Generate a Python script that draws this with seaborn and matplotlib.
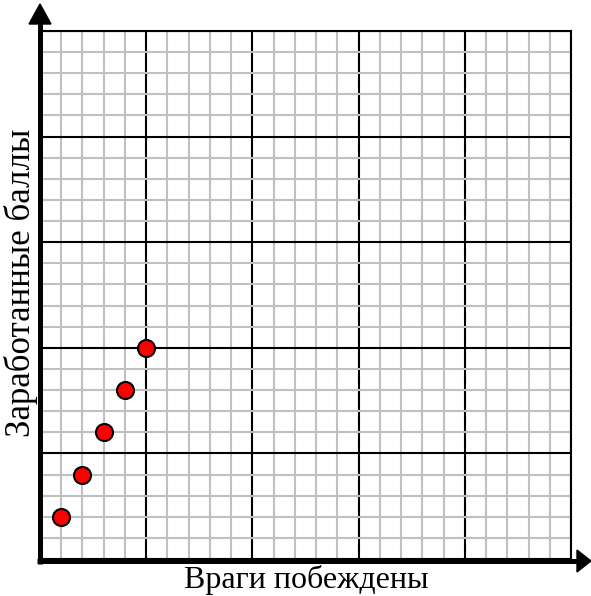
import matplotlib
matplotlib.use("Agg")
import matplotlib.pyplot as plt
import seaborn as sns
import numpy as np
import pandas as pd
from matplotlib.patches import Polygon
from matplotlib.lines import Line2D
from matplotlib.ticker import MultipleLocator

enemies = [1, 2, 3, 4, 5]
points = [2, 4, 6, 8, 10]
x_label = "Враги побеждены"
y_label = "Заработанные баллы"

df = pd.DataFrame({"x": enemies, "y": points})

sns.set_style("white")
plt.rcParams["font.family"] = ["Liberation Serif", "DejaVu Serif"]

W, H = 591, 596
fig = plt.figure(figsize=(W / 100, H / 100), dpi=100)
ax = fig.add_axes([40 / W, 1 - 559 / H, 531 / W, 528 / H])

ax.set_xlim(0, 25)
ax.set_ylim(0, 25)
ax.xaxis.set_major_locator(MultipleLocator(5))
ax.yaxis.set_major_locator(MultipleLocator(5))
ax.xaxis.set_minor_locator(MultipleLocator(1))
ax.yaxis.set_minor_locator(MultipleLocator(1))
ax.grid(which="minor", color="#c0c0c0", linewidth=1.5, zorder=0)
ax.grid(which="major", color="black", linewidth=1.5, zorder=1)
ax.set_axisbelow(True)
ax.tick_params(which="both", length=0, labelbottom=False, labelleft=False)
for s in ["top", "right"]:
    ax.spines[s].set_color("black")
    ax.spines[s].set_linewidth(1.5)
for s in ["left", "bottom"]:
    ax.spines[s].set_visible(False)

sns.scatterplot(data=df, x="x", y="y", ax=ax, color="#ff0000", edgecolor="black",
                linewidth=1.5, s=150, zorder=5, clip_on=False)
ax.set_xlabel("")
ax.set_ylabel("")

def fx(x):
    return x / W

def fy(y):
    return 1 - y / H

lw = 5 * 72 / 100
fig.add_artist(Line2D([fx(40), fx(40)], [fy(564), fy(22)], color="black", linewidth=lw,
                      transform=fig.transFigure, solid_capstyle="butt"))
fig.add_artist(Line2D([fx(37), fx(579)], [fy(561), fy(561)], color="black", linewidth=lw,
                      transform=fig.transFigure, solid_capstyle="butt"))
fig.add_artist(Polygon([[fx(29), fy(24)], [fx(51), fy(24)], [fx(40), fy(4)]], closed=True,
                       color="black", transform=fig.transFigure))
fig.add_artist(Polygon([[fx(577), fy(550)], [fx(577), fy(572)], [fx(591), fy(561)]], closed=True,
                       color="black", transform=fig.transFigure))

fig.text(fx(306), fy(580), x_label, ha="center", va="center", fontsize=23, color="black")
fig.text(fx(21), fy(283), y_label, ha="center", va="center", fontsize=25, rotation=90,
         color="black")

fig.savefig("out.png", dpi=100)
